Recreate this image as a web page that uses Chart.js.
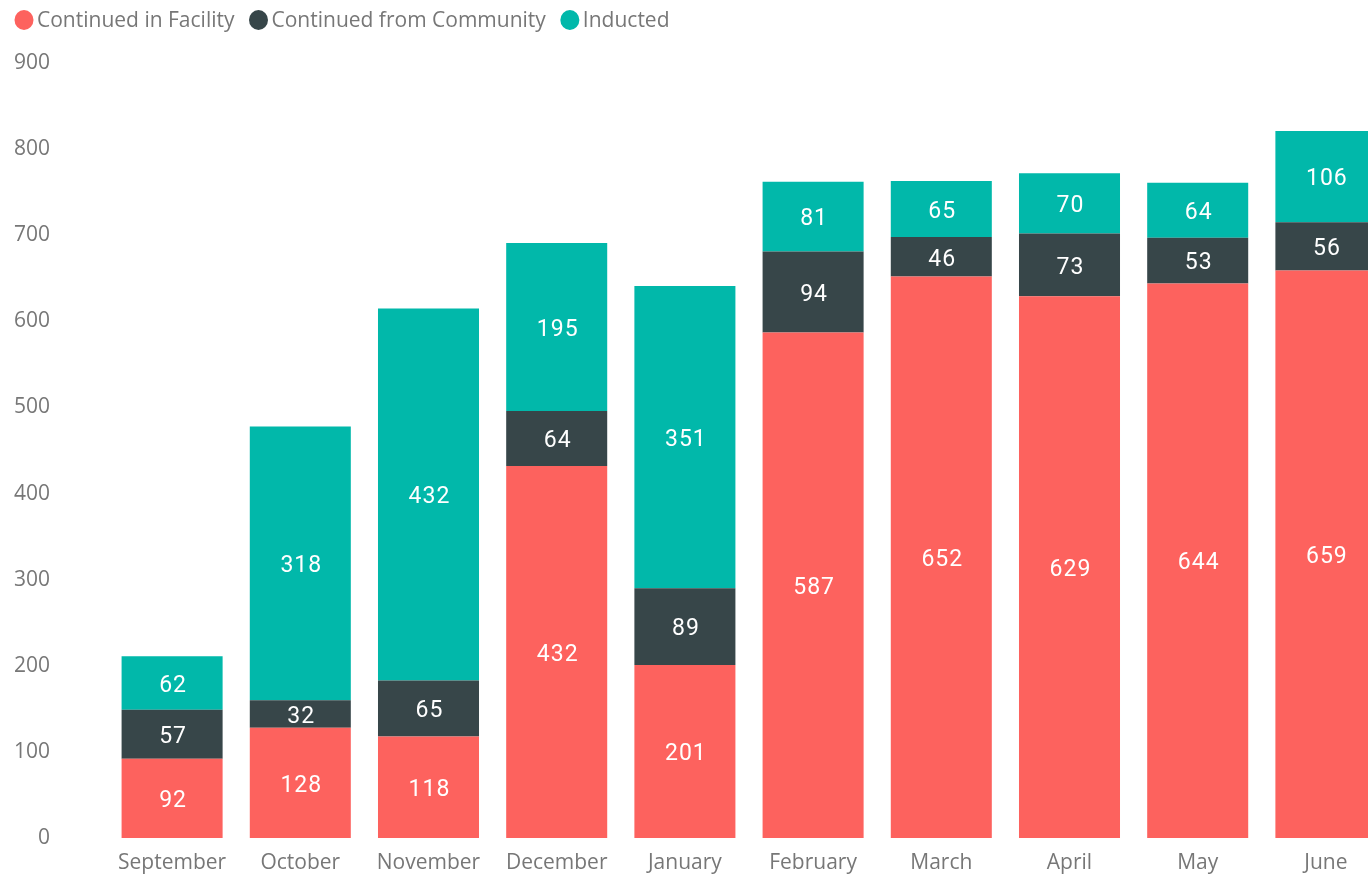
<!DOCTYPE html>
<html>
<head>
<meta charset="utf-8">
<script src="https://cdn.jsdelivr.net/npm/chart.js@4"></script>
<style>
html,body{margin:0;padding:0;overflow:hidden;background:#fff;}
#wrap{position:absolute;left:0;top:0;width:1390px;height:874px;}
</style>
</head>
<body>
<div id="wrap"><canvas id="c" width="1390" height="874"></canvas></div>
<script>
const categories = ["September","October","November","December","January","February","March","April","May","June"];
const continuedInFacility = [92,128,118,432,201,587,652,629,644,659];
const continuedFromCommunity = [57,32,65,64,89,94,46,73,53,56];
const inducted = [62,318,432,195,351,81,65,70,64,106];
const seriesNames = ["Continued in Facility","Continued from Community","Inducted"];
const seriesColors = ["#FD625E","#374649","#01B8AA"];
const yTicks = [0,100,200,300,400,500,600,700,800,900];

const AXIS_FONT = {family: "'Open Sans', sans-serif", size: 21};
const AXIS_COLOR = "#777777";

const labelPlugin = {
  id: 'segLabels',
  afterDatasetsDraw(chart) {
    const ctx = chart.ctx;
    ctx.save();
    ctx.fillStyle = '#ffffff';
    ctx.font = "23px Roboto, sans-serif";
    ctx.textAlign = 'center';
    ctx.textBaseline = 'middle';
    try { ctx.letterSpacing = '1px'; } catch(e) {}
    chart.data.datasets.forEach((ds, i) => {
      const meta = chart.getDatasetMeta(i);
      meta.data.forEach((bar, j) => {
        const v = ds.data[j];
        const top = Math.min(bar.y, bar.base), bot = Math.max(bar.y, bar.base);
        ctx.fillText(String(v), bar.x + 1, (top + bot) / 2 + 3);
      });
    });
    ctx.restore();
  }
};

const legendPlugin = {
  id: 'manualLegend',
  afterDraw(chart) {
    const ctx = chart.ctx;
    ctx.save();
    ctx.font = "21px 'Open Sans', sans-serif";
    ctx.textBaseline = 'middle';
    ctx.textAlign = 'left';
    let x = 14;
    const y = 20;
    seriesNames.forEach((name, i) => {
      ctx.fillStyle = seriesColors[i];
      ctx.beginPath();
      ctx.ellipse(x + 10, y, 9.5, 10, 0, 0, Math.PI * 2);
      ctx.fill();
      x += 23;
      ctx.fillStyle = AXIS_COLOR;
      ctx.fillText(name, x, y + 1.5);
      x += ctx.measureText(name).width + 14;
    });
    ctx.restore();
  }
};

new Chart(document.getElementById('c'), {
  type: 'bar',
  data: {
    labels: categories,
    datasets: [
      {label: seriesNames[0], data: continuedInFacility, backgroundColor: seriesColors[0]},
      {label: seriesNames[1], data: continuedFromCommunity, backgroundColor: seriesColors[1]},
      {label: seriesNames[2], data: inducted, backgroundColor: seriesColors[2]}
    ]
  },
  options: {
    responsive: false,
    animation: false,
    devicePixelRatio: 1,
    layout: {padding: {top: 63, left: 0, right: 0, bottom: 0}},
    datasets: {bar: {categoryPercentage: 1, barPercentage: 0.788, borderWidth: 0}},
    plugins: {legend: {display: false}, tooltip: {enabled: false}},
    scales: {
      x: {
        stacked: true,
        grid: {display: false, drawTicks: false},
        border: {display: false},
        ticks: {color: AXIS_COLOR, font: AXIS_FONT, padding: 12, maxRotation: 0, autoSkip: false},
        afterFit(s) { s.height = 36; s.paddingTop = 0; s.paddingBottom = 0; }
      },
      y: {
        stacked: true,
        min: 0, max: 900,
        afterBuildTicks(s) { s.ticks = yTicks.map(v => ({value: v})); },
        grid: {display: false, drawTicks: false},
        border: {display: false},
        ticks: {color: AXIS_COLOR, font: AXIS_FONT, padding: 58},
        afterFit(s) { s.width = 108; s.paddingTop = 12; s.paddingBottom = 12; }
      }
    }
  },
  plugins: [labelPlugin, legendPlugin]
});
</script>
</body>
</html>
